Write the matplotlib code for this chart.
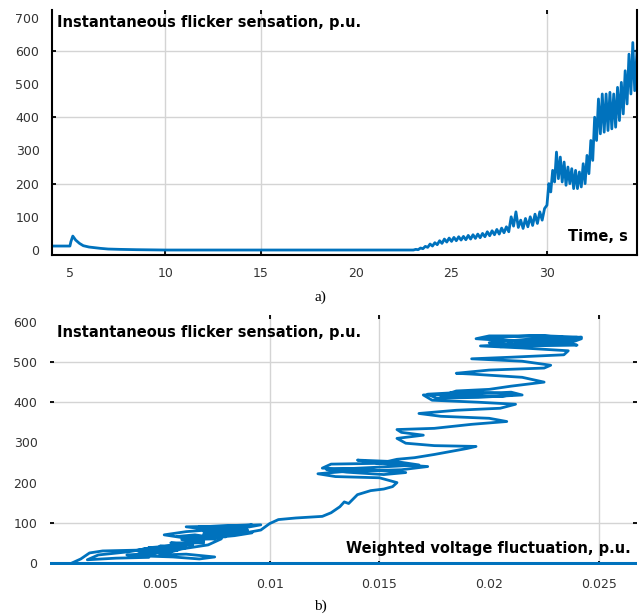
import matplotlib
matplotlib.use("Agg")
import matplotlib.pyplot as plt

blue = "#0072BD"

# a) instantaneous flicker sensation vs time
t_a = [4.06, 5.0, 5.05, 5.15, 5.3, 5.5, 5.7, 6.0, 6.6, 7.0, 7.6, 8.5, 10, 15, 20,
       23.0, 23.125, 23.25, 23.375, 23.5, 23.625, 23.75, 23.875, 24.0, 24.125,
       24.25, 24.375, 24.5, 24.625, 24.75, 24.875, 25.0, 25.125, 25.25, 25.375,
       25.5, 25.625, 25.75, 25.875, 26.0, 26.125, 26.25, 26.375, 26.5, 26.625,
       26.75, 26.875, 27.0, 27.125, 27.25, 27.375, 27.5, 27.625, 27.75, 27.875,
       28.0, 28.125, 28.25, 28.375, 28.5, 28.625, 28.75, 28.875, 29.0, 29.125,
       29.25, 29.375, 29.5, 29.625, 29.75, 29.875, 30.0,
       30.1, 30.2, 30.3, 30.4, 30.5, 30.6, 30.7, 30.8, 30.9, 31.0, 31.1, 31.2,
       31.3, 31.4, 31.5, 31.6, 31.7, 31.8, 31.9, 32.0, 32.1, 32.2, 32.3, 32.4,
       32.5, 32.6, 32.7, 32.8, 32.9, 33.0, 33.1, 33.2, 33.3, 33.4, 33.5, 33.6,
       33.7, 33.8, 33.9, 34.0, 34.1, 34.2, 34.3, 34.4, 34.5, 34.6, 34.72]
v_a = [12, 12, 25, 42, 30, 20, 13, 9, 5, 3, 2, 1, 0, 0, 0,
       0, 2, 1, 6, 4, 11, 8, 18, 12, 22,
       16, 28, 20, 33, 24, 36, 26, 38, 28, 40,
       30, 41, 31, 44, 33, 46, 35, 48, 37, 50,
       40, 55, 43, 58, 46, 62, 48, 66, 52, 70,
       55, 100, 72, 115, 68, 90, 65, 95, 70, 100,
       74, 108, 80, 115, 90, 125, 135,
       200, 175, 240, 205, 295, 215, 280, 205, 265, 195, 250, 200,
       245, 185, 240, 185, 235, 190, 260, 200, 285, 230, 330, 270,
       400, 330, 455, 350, 470, 355, 470, 360, 475, 365, 470, 370,
       490, 390, 505, 410, 540, 440, 590, 470, 625, 480, 600]

# b) flicker sensation vs weighted voltage fluctuation
zero_x = [0.0, 0.0268]
zero_y = [0, 0]
x_b = [0.0010, 0.0014, 0.0018, 0.0024, 0.0040, 0.0046, 0.0036, 0.0022, 0.0017,
       0.0030, 0.0045, 0.0035, 0.0050, 0.0040, 0.0055, 0.0045, 0.0062, 0.0050,
       0.0065, 0.0055, 0.0070, 0.0060, 0.0075, 0.0065, 0.0080, 0.0070, 0.0085,
       0.0075, 0.0090, 0.0068, 0.0092, 0.0086, 0.0062, 0.0052, 0.0070, 0.0060,
       0.0045, 0.0058, 0.0048, 0.0040, 0.0056, 0.0068, 0.0075, 0.0062, 0.0050,
       0.0060, 0.0072, 0.0078, 0.0066, 0.0058, 0.0072, 0.0084, 0.0092, 0.0074,
       0.0062, 0.0082, 0.0096, 0.0086, 0.0070, 0.0086, 0.0096, 0.0100, 0.0104,
       0.0112, 0.0124, 0.0128, 0.0132, 0.0134, 0.0136, 0.0140, 0.0146, 0.0152,
       0.0156, 0.0158, 0.0150, 0.0130, 0.0122, 0.0135, 0.0160, 0.0172, 0.0150,
       0.0128, 0.0124, 0.0145, 0.0162, 0.0152, 0.0135, 0.0126, 0.0148, 0.0168,
       0.0158, 0.0140, 0.0150, 0.0158, 0.0166, 0.0175, 0.0190, 0.0194, 0.0175,
       0.0162, 0.0158, 0.0170, 0.0160, 0.0158, 0.0175, 0.0192, 0.0208, 0.0200,
       0.0178, 0.0168, 0.0185, 0.0205, 0.0212, 0.0195, 0.0174, 0.0170, 0.0190,
       0.0210, 0.0215, 0.0195, 0.0176, 0.0172, 0.0192, 0.0212, 0.0205, 0.0185,
       0.0178, 0.0185, 0.0200, 0.0210, 0.0225, 0.0215, 0.0192, 0.0185, 0.0200,
       0.0225, 0.0228, 0.0215, 0.0192, 0.0210, 0.0234, 0.0236, 0.0215, 0.0196,
       0.0215, 0.0238, 0.0242, 0.0225, 0.0200, 0.0194, 0.0210, 0.0235, 0.0240,
       0.0215, 0.0200, 0.0220, 0.0242, 0.0238, 0.0212, 0.0198, 0.0222, 0.0240,
       0.0232, 0.0205, 0.0210]
y_b = [0, 10, 25, 30, 32, 38, 28, 20, 8,
       12, 14, 20, 25, 30, 28, 35, 38, 42,
       45, 50, 50, 58, 60, 65, 65, 72, 75,
       80, 82, 90, 95, 88, 78, 70, 55, 45,
       38, 32, 25, 18, 15, 10, 15, 22, 20,
       35, 45, 60, 70, 66, 62, 68, 75, 82,
       90, 92, 95, 85, 78, 72, 82, 98, 108,
       112, 116, 125, 140, 152, 148, 170, 180, 184,
       190, 200, 212, 215, 222, 228, 232, 240, 248,
       246, 236, 232, 225, 220, 226, 232, 238, 244,
       252, 256, 248, 258, 262, 270, 285, 290, 292,
       298, 310, 318, 325, 332, 335, 345, 352, 360,
       365, 372, 380, 385, 395, 400, 405, 418, 420,
       425, 418, 412, 410, 420, 426, 420, 414, 416,
       415, 428, 432, 440, 450, 462, 470, 472, 480,
       485, 492, 502, 508, 512, 518, 528, 535, 540,
       545, 550, 558, 565, 565, 558, 552, 548, 542,
       540, 548, 558, 562, 555, 552, 560, 566, 562,
       545, 538, 548]

fig = plt.figure(figsize=(6.39, 6.15), dpi=100)
W, H = 639, 615

def box(l, t, r, b):
    return [l / W, 1 - b / H, (r - l) / W, (b - t) / H]

grid_c = "#d4d4d4"

# --- panel a
ax1 = fig.add_axes(box(52, 10, 637, 255))
for gx in [10, 15, 30]:
    ax1.axvline(gx, color=grid_c, lw=1, zorder=0)
for gy in [200, 400, 600]:
    ax1.axhline(gy, color=grid_c, lw=1, zorder=0)
ax1.plot(t_a, v_a, color=blue, lw=2)
ax1.set_xlim(4.06, 34.72)
ax1.set_ylim(-15, 723)
ax1.set_xticks([5, 10, 15, 20, 25, 30])
ax1.set_yticks([0, 100, 200, 300, 400, 500, 600, 700])
ax1.xaxis.remove_overlapping_locs = False
ax1.yaxis.remove_overlapping_locs = False
ax1.set_xticks([10, 15, 30], minor=True)
ax1.set_yticks([200, 400, 600], minor=True)
ax1.tick_params(which="major", length=0, labelsize=9, labelcolor="#333333", pad=9)
ax1.tick_params(which="minor", direction="in", length=3, width=1.3,
                left=True, right=True, top=True, bottom=True)
for s in ["left", "bottom", "right"]:
    ax1.spines[s].set_linewidth(1.5)
ax1.spines["top"].set_visible(False)
ax1.text(0.009, 0.95, "Instantaneous flicker sensation, p.u.", transform=ax1.transAxes,
         fontsize=10.5, fontweight="bold", ha="left", va="center")
ax1.text(0.985, 0.074, "Time, s", transform=ax1.transAxes,
         fontsize=10.5, fontweight="bold", ha="right", va="center")
fig.text(320 / W, 1 - 297 / H, "a)", family="Liberation Serif", fontsize=11,
         ha="center", va="center")

# --- panel b
ax2 = fig.add_axes(box(50, 315, 637, 565))
for gx in [0.01, 0.015, 0.025]:
    ax2.axvline(gx, color=grid_c, lw=1, zorder=0)
for gy in [100, 400, 500]:
    ax2.axhline(gy, color=grid_c, lw=1, zorder=0)
ax2.plot(zero_x, zero_y, color=blue, lw=2.2)
ax2.plot(x_b, y_b, color=blue, lw=2)
ax2.set_xlim(0, 0.02673)
ax2.set_ylim(-5, 617)
ax2.set_xticks([0.005, 0.01, 0.015, 0.02, 0.025])
ax2.set_xticklabels(["0.005", "0.01", "0.015", "0.02", "0.025"])
ax2.set_yticks([0, 100, 200, 300, 400, 500, 600])
ax2.xaxis.remove_overlapping_locs = False
ax2.yaxis.remove_overlapping_locs = False
ax2.set_xticks([0.01, 0.015, 0.025], minor=True)
ax2.set_yticks([100, 400, 500], minor=True)
ax2.tick_params(which="major", length=0, labelsize=9, labelcolor="#333333", pad=9)
ax2.tick_params(which="minor", direction="in", length=3, width=1.3,
                left=True, right=True, top=True, bottom=True)
for s in ax2.spines.values():
    s.set_visible(False)
ax2.text(0.012, 0.93, "Instantaneous flicker sensation, p.u.", transform=ax2.transAxes,
         fontsize=10.5, fontweight="bold", ha="left", va="center")
ax2.text(0.99, 0.068, "Weighted voltage fluctuation, p.u.", transform=ax2.transAxes,
         fontsize=10.5, fontweight="bold", ha="right", va="center")
fig.text(320 / W, 1 - 606 / H, "b)", family="Liberation Serif", fontsize=11,
         ha="center", va="center")

fig.savefig("out.png", dpi=100)
